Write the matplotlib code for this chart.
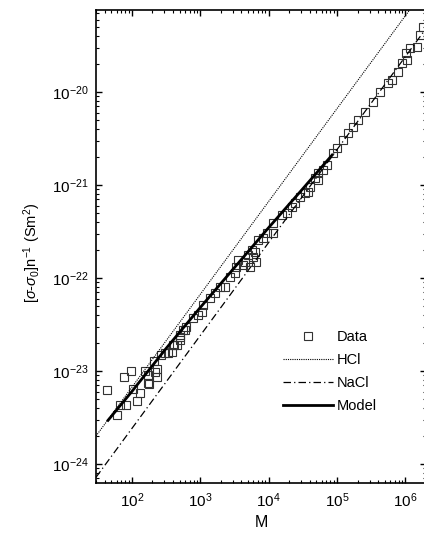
import matplotlib
matplotlib.use("Agg")
from matplotlib import pyplot as plt

plt.rcParams['font.family'] = ['Liberation Sans', 'DejaVu Sans']
plt.rcParams['mathtext.fontset'] = 'custom'
plt.rcParams['mathtext.rm'] = 'Liberation Sans'
plt.rcParams['mathtext.it'] = 'Liberation Sans:italic'
plt.rcParams['mathtext.sf'] = 'Liberation Sans'

# measured points (M, [sigma-sigma0]/n in S m^2)
data_M = [43, 60, 67, 82, 76, 97, 118, 131, 103, 155, 171, 177, 171, 217, 232,
          232, 210, 266, 304, 337, 385, 412, 456, 505, 505, 597,
          398, 505, 558, 618, 782, 925, 1060, 1096, 1388, 1641, 1942, 2300,
          2722, 3223, 3334, 4220, 4510, 4990, 6320, 6540, 5350,
          3565, 5710, 5910, 7000, 8280, 9480, 11600, 11600, 15700, 18600,
          22000, 24400, 28800, 34100, 37800, 40400, 47800, 52800, 52800,
          62600, 71600,
          87700, 100000, 123000, 145000, 172000, 204000, 258000, 338000,
          428000, 560000, 641000, 785000, 898000, 1.06e6,
          1.03e6, 1.17e6, 1.49e6, 1.65e6, 1.82e6]
data_S = [6.25e-24, 3.4e-24, 4.3e-24, 4.3e-24, 8.6e-24, 1.0e-23, 4.8e-24, 5.8e-24,
          6.4e-24, 1.0e-23, 7.4e-24, 7.2e-24, 9.1e-24, 9.8e-24, 1.05e-23,
          8.6e-24, 1.28e-23, 1.49e-23, 1.56e-23, 1.56e-23, 1.6e-23, 1.9e-23,
          1.9e-23, 2.15e-23, 2.44e-23, 2.76e-23,
          1.91e-23, 2.32e-23, 2.76e-23, 2.97e-23, 3.72e-23, 4.0e-23, 4.3e-23,
          5.13e-23, 6.1e-23, 6.9e-23, 8.0e-23, 8.0e-23,
          1.03e-22, 1.13e-22, 1.31e-22, 1.38e-22, 1.49e-22, 1.77e-22, 1.9e-22,
          1.49e-22, 1.31e-22,
          1.56e-22, 2.0e-22, 1.68e-22, 2.56e-22, 2.69e-22, 3.05e-22, 3.05e-22,
          3.9e-22, 4.75e-22, 5.0e-22, 5.8e-22, 6.4e-22, 7.4e-22, 8.2e-22,
          8.4e-22, 9.5e-22, 1.19e-21, 1.35e-21, 1.13e-21, 1.45e-21, 1.64e-21,
          2.21e-21, 2.5e-21, 3.05e-21, 3.62e-21, 4.2e-21, 5.0e-21, 6.1e-21,
          7.8e-21, 1.0e-20, 1.25e-20, 1.35e-20, 1.64e-20, 2.05e-20, 2.2e-20,
          2.62e-20, 2.97e-20, 3.05e-20, 4.1e-20, 5.0e-20]

hcl_M = [30, 2e6]
hcl_S = [2.0e-24, 1.32e-19]

nacl_M = [30, 2e6]
nacl_S = [7.2e-25, 4.8e-20]

model_M = [45, 100, 316, 1000, 3162, 10000, 31623, 85000]
model_S = [2.95e-24, 6.0e-24, 1.74e-23, 4.8e-23, 1.29e-22, 3.47e-22, 9.1e-22, 2.1e-21]

fig = plt.figure(figsize=(4.24, 5.44), dpi=100)
ax = fig.add_axes([96/424, 1-483/544, 330/424, 473/544])

ax.plot(data_M, data_S, ls='none', marker='s', ms=5.2, mfc='none',
        mec='#333333', mew=0.8, label='Data')
ax.plot(hcl_M, hcl_S, color='black', lw=0.8, ls=(0, (1, 1)), label='HCl')
ax.plot(nacl_M, nacl_S, color='black', lw=0.9, ls=(0, (6, 2.5, 1, 2.5)), label='NaCl')
ax.plot(model_M, model_S, color='black', lw=2.0, label='Model')

ax.set_xscale('log')
ax.set_yscale('log')
ax.set_xlim(30, 2e6)
ax.set_ylim(6.25e-25, 7.6e-20)
ax.set_xticks([1e2, 1e3, 1e4, 1e5, 1e6])
ax.set_yticks([1e-24, 1e-23, 1e-22, 1e-21, 1e-20])

ax.tick_params(which='both', direction='in', top=True, right=True, labelsize=11)
ax.tick_params(which='major', length=4, width=1)
ax.tick_params(which='minor', length=2.2, width=0.8)
ax.tick_params(axis='y', pad=5)
ax.tick_params(axis='x', pad=6)
for s in ax.spines.values():
    s.set_linewidth(1.2)

ax.set_xlabel('M', fontsize=11.5, labelpad=4)
ax.set_ylabel(r'[$\sigma$-$\sigma_0$]n$^{-1}$ (Sm$^2$)', fontsize=10.5)
ax.yaxis.set_label_coords(-0.16, 0.486)

ax.legend(loc='upper left', bbox_to_anchor=(283/424, 1-330/544),
          bbox_transform=fig.transFigure, frameon=False, fontsize=10.5,
          handlelength=3.4, handletextpad=0.3, labelspacing=0.62, borderpad=0,
          borderaxespad=0)

fig.savefig('out.png', dpi=100)
